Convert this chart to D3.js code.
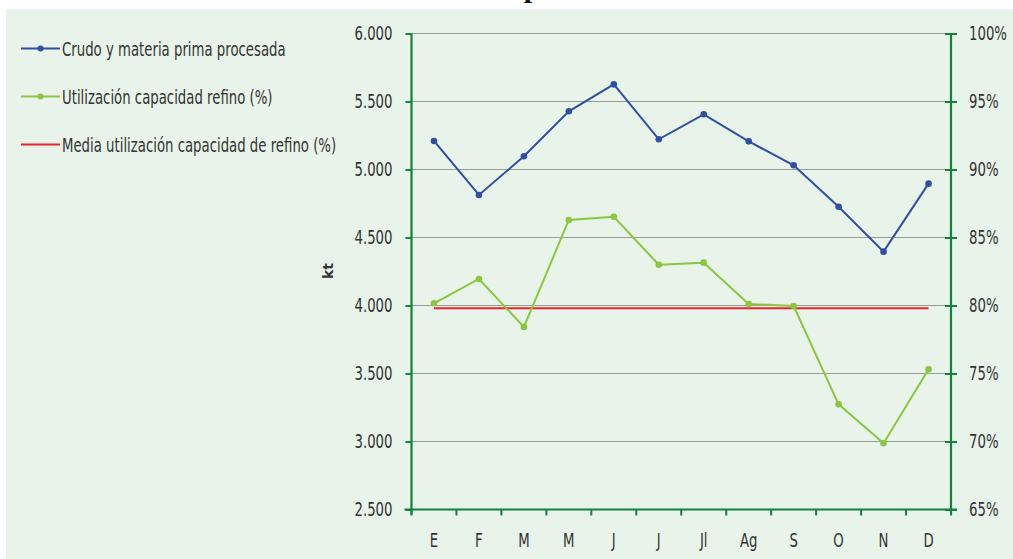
<!DOCTYPE html>
<html><head><meta charset="utf-8">
<script src="https://cdn.jsdelivr.net/npm/d3@7"></script>
<style>
body{margin:0;background:#fff;}
svg{display:block;}
text{font-family:"DejaVu Sans",sans-serif;fill:#333;}
</style></head><body>
<svg id="c" width="1013" height="559"></svg>
<script>
const months = ["E","F","M","M","J","J","Jl","Ag","S","O","N","D"];
const crudo = [5210,4813,5097,5428,5626,5222,5406,5207,5031,4726,4396,4896];
const utilizacion = [80.16,81.95,78.42,86.29,86.53,83.0,83.15,80.11,79.96,72.73,69.87,75.31];
const media = [79.8,79.8,79.8,79.8,79.8,79.8,79.8,79.8,79.8,79.8,79.8,79.8];
const leftTicks = [2500,3000,3500,4000,4500,5000,5500,6000];
const rightTicks = [65,70,75,80,85,90,95,100];
const legendLabels = ["Crudo y materia prima procesada","Utilización capacidad refino (%)","Media utilización capacidad de refino (%)"];
const colors = ["#2f4fa3","#8cc63e","#e8232b"];
const axisColor = "#13823c";
const FS = "19px";

const svg = d3.select("#c");
svg.append("rect").attr("x",6).attr("y",9).attr("width",1007).attr("height",550).attr("fill","#e8f3e9");
svg.append("text").attr("class","title").attr("x",532).attr("y",-3).attr("text-anchor","middle")
  .style("font-family","Liberation Serif").style("font-weight","bold").style("font-size","30px").style("fill","#111").text("p");

const L = 411.5, R = 951, T = 33.5, B = 509.5;
const x = d3.scaleBand().domain(d3.range(12)).range([L,R]);
const yL = d3.scaleLinear().domain([2500,6000]).range([B,T]);
const yR = d3.scaleLinear().domain([65,100]).range([B,T]);
const cx = i => x(i) + x.bandwidth()/2;

// gridlines
svg.append("g").selectAll("line").data(leftTicks.slice(1)).join("line")
  .attr("x1",L).attr("x2",R).attr("y1",d=>yL(d)).attr("y2",d=>yL(d))
  .attr("stroke","#959e95").attr("stroke-width",1.2);

// left axis
const gl = svg.append("g").attr("transform",`translate(${L},0)`)
  .call(d3.axisLeft(yL).tickValues(leftTicks).tickSize(6).tickPadding(13)
    .tickFormat(d=>d3.format(",")(d).replace(",",".")));
gl.select(".domain").remove();
gl.selectAll(".tick line").attr("stroke",axisColor).attr("stroke-width",2);
gl.selectAll("text").attr("class","cz").style("font-size",FS).attr("fill","#333").attr("font-family",null);
svg.append("line").attr("x1",L).attr("x2",L).attr("y1",T).attr("y2",B+5).attr("stroke",axisColor).attr("stroke-width",2.2);

// right axis
const gr = svg.append("g").attr("transform",`translate(${R},0)`)
  .call(d3.axisRight(yR).tickValues(rightTicks).tickSize(6).tickPadding(12).tickFormat(d=>d+"%"));
gr.select(".domain").remove();
gr.selectAll(".tick line").attr("x1",-6).attr("stroke",axisColor).attr("stroke-width",2);
gr.selectAll("text").attr("class","cz").style("font-size",FS).attr("fill","#333").attr("font-family",null);
svg.append("line").attr("x1",R).attr("x2",R).attr("y1",T).attr("y2",B+5).attr("stroke",axisColor).attr("stroke-width",2.2);

// x axis
svg.append("line").attr("x1",L-7).attr("x2",R+6).attr("y1",B).attr("y2",B).attr("stroke",axisColor).attr("stroke-width",2.2);
svg.append("g").selectAll("line").data(d3.range(13)).join("line")
  .attr("x1",i=>L+i*x.bandwidth()).attr("x2",i=>L+i*x.bandwidth()).attr("y1",B).attr("y2",B+6)
  .attr("stroke",axisColor).attr("stroke-width",2);
svg.append("g").selectAll("text").data(months).join("text").attr("class","cz")
  .attr("x",(d,i)=>cx(i)).attr("y",547).attr("text-anchor","middle").style("font-size",FS).text(d=>d);

// kt label
svg.append("text").attr("transform","translate(333,271) rotate(-90)").attr("text-anchor","middle")
  .style("font-size","14px").style("font-weight","bold").text("kt");

// series
const lineL = d3.line().x((d,i)=>cx(i)).y(d=>yL(d));
const lineR = d3.line().x((d,i)=>cx(i)).y(d=>yR(d));
svg.append("path").datum(media).attr("d",lineR).attr("fill","none").attr("stroke",colors[2]).attr("stroke-width",2);
svg.append("path").datum(utilizacion).attr("d",lineR).attr("fill","none").attr("stroke",colors[1]).attr("stroke-width",2);
svg.append("g").selectAll("circle").data(utilizacion).join("circle")
  .attr("cx",(d,i)=>cx(i)).attr("cy",d=>yR(d)).attr("r",3.3).attr("fill",colors[1]);
svg.append("path").datum(crudo).attr("d",lineL).attr("fill","none").attr("stroke",colors[0]).attr("stroke-width",2);
svg.append("g").selectAll("circle").data(crudo).join("circle")
  .attr("cx",(d,i)=>cx(i)).attr("cy",d=>yL(d)).attr("r",3.3).attr("fill",colors[0]);

// legend
const lg = svg.append("g").selectAll("g").data(legendLabels).join("g")
  .attr("transform",(d,i)=>`translate(21,${48.5+i*48})`);
lg.append("line").attr("x1",0).attr("x2",39).attr("stroke",(d,i)=>colors[i]).attr("stroke-width",2);
lg.filter((d,i)=>i<2).append("circle").attr("cx",19.5).attr("r",3).attr("fill",(d,i)=>colors[i]);
lg.append("text").attr("class","cz").attr("x",41).attr("y",7).style("font-size",FS).text(d=>d);

// condensed look: compress glyphs horizontally around each text's anchor x
svg.selectAll("text.cz").each(function(){
  const el = d3.select(this);
  const xx = +el.attr("x") || 0;
  const t = el.attr("transform") || "";
  el.attr("transform", `${t} translate(${xx},0) scale(0.7,1) translate(${-xx},0)`);
});
</script>
</body></html>
